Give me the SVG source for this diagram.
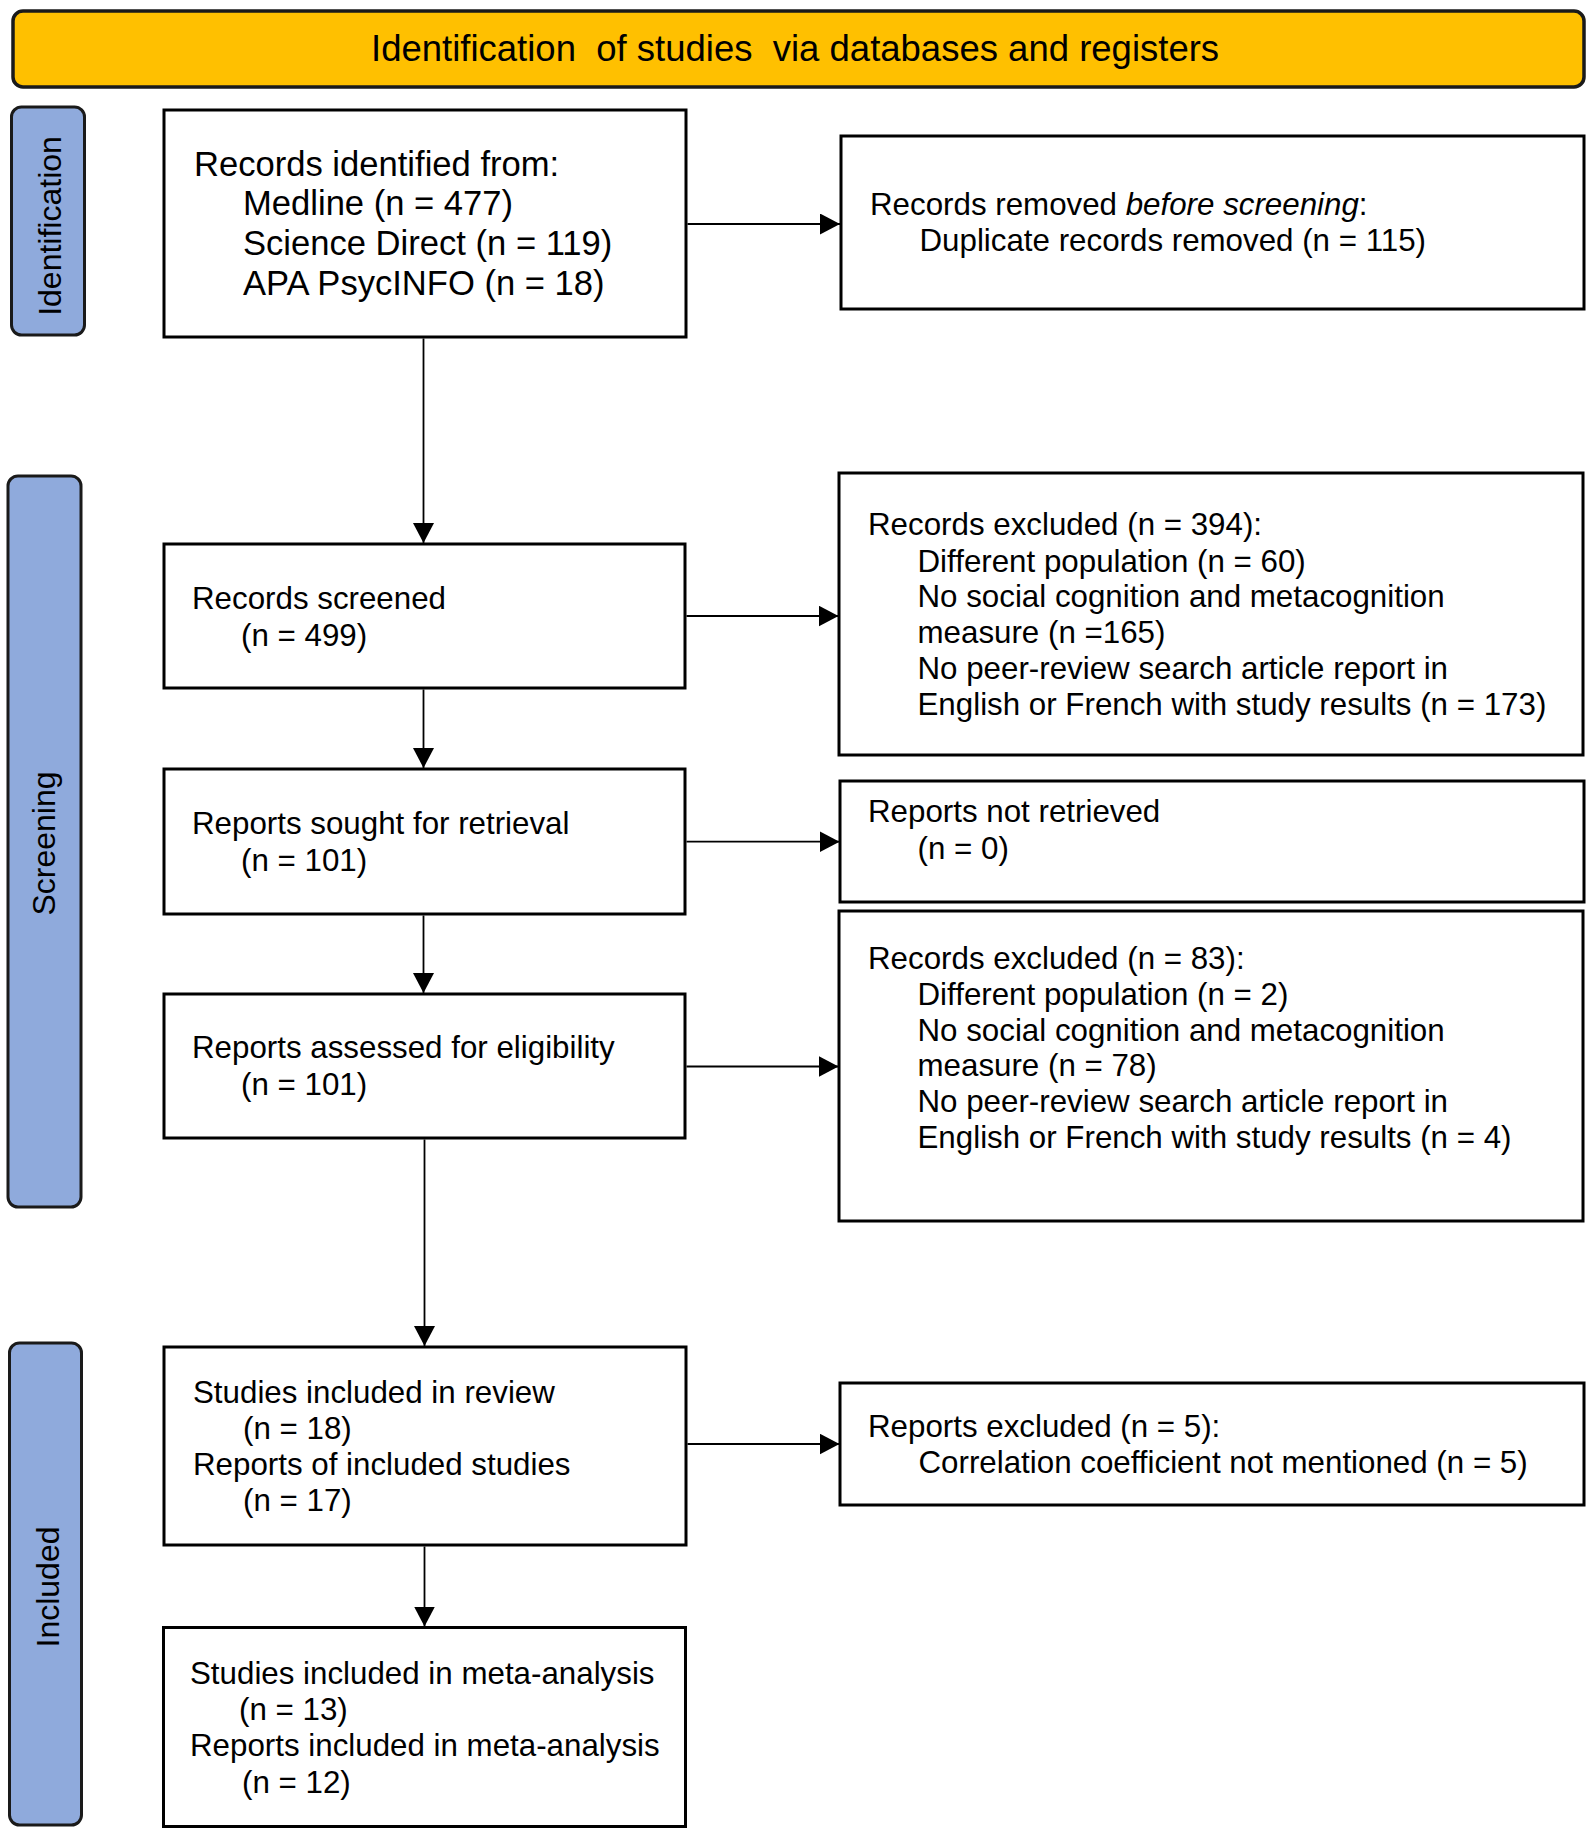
<svg xmlns="http://www.w3.org/2000/svg" width="1595" height="1835" viewBox="0 0 1595 1835">
<defs>
<marker id="arr" markerUnits="userSpaceOnUse" markerWidth="21" markerHeight="21" refX="20" refY="10.5" orient="auto">
<path d="M0,0 L20,10.5 L0,21 z" fill="#000"/>
</marker>
<style>
.box{fill:#fff;stroke:#000;stroke-width:3}
.lab{fill:#8FAADC;stroke:#1a1a1a;stroke-width:3}
.hdr{fill:#FFC000;stroke:#1a1a1a;stroke-width:3.5}
.t{font-family:"Liberation Sans",Arial,sans-serif;font-size:31.3px;fill:#000}
.tb{font-family:"Liberation Sans",Arial,sans-serif;font-size:34.6px;fill:#000}
.lt{font-family:"Liberation Sans",Arial,sans-serif;font-size:32px;fill:#000;text-anchor:middle}
.ht{font-family:"Liberation Sans",Arial,sans-serif;font-size:36.5px;fill:#000}
.c{fill:none;stroke:#000;stroke-width:1.8;marker-end:url(#arr)}
</style>
</defs>
<rect width="1595" height="1835" fill="#fff"/>

<g id="header">
<rect class="hdr" x="13" y="11" width="1571" height="76" rx="10"/>
<text class="ht" x="371" y="60.5" xml:space="preserve">Identification  of studies  via databases and registers</text>
</g>

<g id="label-identification">
<rect class="lab" x="11.5" y="107" width="73" height="228" rx="10"/>
<text class="lt" transform="translate(60.5,226) rotate(-90)">Identification</text>
</g>
<g id="label-screening">
<rect class="lab" x="8" y="476" width="73" height="731" rx="10"/>
<text class="lt" transform="translate(55,843.5) rotate(-90)">Screening</text>
</g>
<g id="label-included">
<rect class="lab" x="9.5" y="1343" width="72" height="482" rx="10"/>
<text class="lt" transform="translate(58.5,1587) rotate(-90)">Included</text>
</g>

<g id="records-identified">
<rect class="box" x="164" y="110" width="522" height="227"/>
<text class="tb" x="194" y="175.5">Records identified from:</text>
<text class="tb" x="243" y="215">Medline (n = 477)</text>
<text class="tb" x="243" y="255">Science Direct (n = 119)</text>
<text class="tb" x="243" y="295">APA PsycINFO (n = 18)</text>
</g>

<g id="records-removed">
<rect class="box" x="841" y="136" width="743" height="173"/>
<text class="t" x="870" y="215">Records removed <tspan font-style="italic">before screening</tspan>:</text>
<text class="t" x="919.5" y="250.7">Duplicate records removed (n = 115)</text>
</g>

<g id="records-screened">
<rect class="box" x="164" y="544" width="521" height="144"/>
<text class="t" x="192" y="609">Records screened</text>
<text class="t" x="241" y="646">(n = 499)</text>
</g>

<g id="records-excluded-394">
<rect class="box" x="839" y="473" width="744" height="282"/>
<text class="t" x="868" y="535">Records excluded (n = 394):</text>
<text class="t" x="917.5" y="571.5">Different population (n = 60)</text>
<text class="t" x="917.5" y="607.3">No social cognition and metacognition</text>
<text class="t" x="917.5" y="643">measure (n =165)</text>
<text class="t" x="917.5" y="678.5">No peer-review search article report in</text>
<text class="t" x="917.5" y="715">English or French with study results (n = 173)</text>
</g>

<g id="reports-sought">
<rect class="box" x="164" y="769" width="521" height="145"/>
<text class="t" x="192" y="834">Reports sought for retrieval</text>
<text class="t" x="241" y="870.5">(n = 101)</text>
</g>

<g id="reports-not-retrieved">
<rect class="box" x="840" y="781" width="744" height="121"/>
<text class="t" x="868" y="822">Reports not retrieved</text>
<text class="t" x="917.5" y="859">(n = 0)</text>
</g>

<g id="reports-assessed">
<rect class="box" x="164" y="994" width="521" height="144"/>
<text class="t" x="192" y="1058">Reports assessed for eligibility</text>
<text class="t" x="241" y="1095">(n = 101)</text>
</g>

<g id="records-excluded-83">
<rect class="box" x="839" y="911" width="744" height="310"/>
<text class="t" x="868" y="968.5">Records excluded (n = 83):</text>
<text class="t" x="917.5" y="1004.5">Different population (n = 2)</text>
<text class="t" x="917.5" y="1040.5">No social cognition and metacognition</text>
<text class="t" x="917.5" y="1076.3">measure (n = 78)</text>
<text class="t" x="917.5" y="1112">No peer-review search article report in</text>
<text class="t" x="917.5" y="1148">English or French with study results (n = 4)</text>
</g>

<g id="studies-included">
<rect class="box" x="164" y="1347" width="522" height="198"/>
<text class="t" x="193" y="1402.7">Studies included in review</text>
<text class="t" x="243" y="1438.5">(n = 18)</text>
<text class="t" x="193" y="1475">Reports of included studies</text>
<text class="t" x="243" y="1511">(n = 17)</text>
</g>

<g id="reports-excluded-5">
<rect class="box" x="840" y="1383" width="744" height="122"/>
<text class="t" x="868" y="1436.7">Reports excluded (n = 5):</text>
<text class="t" x="918.5" y="1472.7">Correlation coefficient not mentioned (n = 5)</text>
</g>

<g id="meta-analysis">
<rect class="box" x="163.5" y="1627.5" width="522" height="199"/>
<text class="t" x="190" y="1683.5">Studies included in meta-analysis</text>
<text class="t" x="239" y="1720">(n = 13)</text>
<text class="t" x="190" y="1756">Reports included in meta-analysis</text>
<text class="t" x="242" y="1792.7">(n = 12)</text>
</g>

<g id="connectors">
<line class="c" x1="423.5" y1="338.5" x2="423.5" y2="543"/>
<line class="c" x1="687.5" y1="224" x2="840" y2="224"/>
<line class="c" x1="423.5" y1="689.5" x2="423.5" y2="768"/>
<line class="c" x1="686.5" y1="616" x2="838.5" y2="616"/>
<line class="c" x1="423.5" y1="915.5" x2="423.5" y2="993"/>
<line class="c" x1="686.5" y1="841.7" x2="839.5" y2="841.7"/>
<line class="c" x1="424.5" y1="1139.5" x2="424.5" y2="1346"/>
<line class="c" x1="686.5" y1="1066.5" x2="838.5" y2="1066.5"/>
<line class="c" x1="424.5" y1="1546.5" x2="424.5" y2="1626.5"/>
<line class="c" x1="687.5" y1="1444" x2="839.5" y2="1444"/>
</g>
</svg>
